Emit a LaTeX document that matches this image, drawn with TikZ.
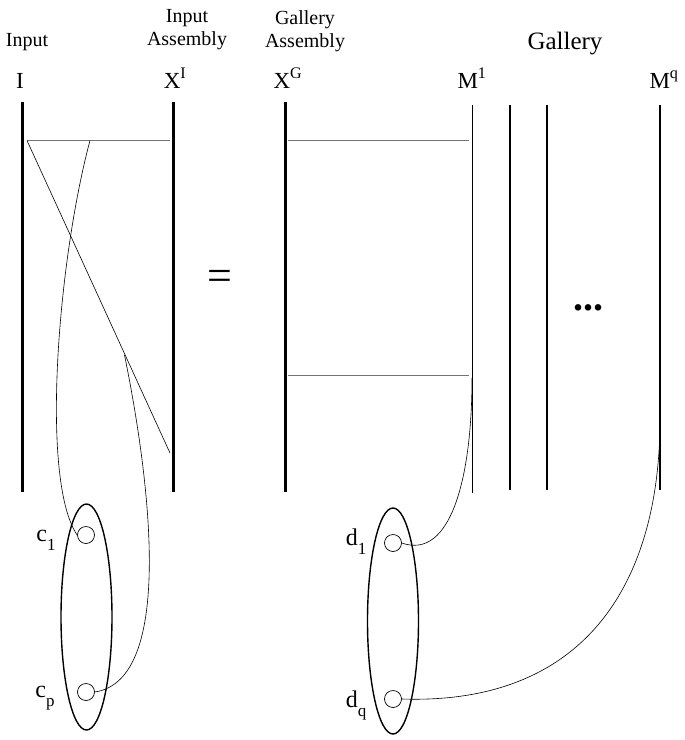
\documentclass[tikz,border=0pt]{standalone}
\usepackage{fontspec}
\setmainfont{Liberation Serif}
\usetikzlibrary{positioning,shapes.geometric}
\tikzset{font=\fontsize{20}{23}\selectfont}
\newcommand{\lowidx}[1]{\raisebox{-9pt}{\fontsize{17}{17}\selectfont #1}}
\tikzset{
	bar/.style={line width=3pt},
	mline/.style={line width=1.3pt},
	rung/.style={line width=0.8pt, black!55},
	link/.style={line width=0.6pt},
	port/.style={draw, circle, minimum size=17pt, inner sep=0pt, line width=0.7pt},
	group/.style={draw, ellipse, minimum width=51pt, minimum height=226pt, inner sep=0pt, line width=1.4pt},
	sym/.style={font=\fontsize{23}{25}\selectfont, anchor=base},
	idx/.style={font=\fontsize{24}{26}\selectfont, anchor=base},
}

\begin{document}
\begin{tikzpicture}[x=1pt, y=-1pt]
	\useasboundingbox (0,0) rectangle (685,740);
	\begin{scope}
		\tikzstyle{every node}=[align=center, inner sep=1pt]
		% headings
		\node (hin) at (27,42) {Input};
		\node (hinas) at (187,30) {Input\\Assembly};
		\node (hgalas) at (305,31) {Gallery\\Assembly};
		\node[font=\fontsize{25}{28}\selectfont] (hgal) at (565,44) {Gallery};

		% symbols above the bars
		\node[sym] (sI) at (20,88) {I};
		\node[sym] (sXI) at (175,88) {X\textsuperscript{I}};
		\node[sym] (sXG) at (288,88) {X\textsuperscript{G}};
		\node[sym] (sM1) at (472,88) {M\textsuperscript{1}};
		\node[sym] (sMq) at (664,88) {M\textsuperscript{q}};

		\node[font=\fontsize{44}{44}\selectfont] (eq) at (220,280) {=};
		\node[font=\fontsize{40}{40}\selectfont\bfseries, anchor=base] (dots) at (588,310) {...};

		% bars
		\coordinate (I-t) at (22,102);
		\coordinate (I-b) at (22,492);
		\coordinate (XI-t) at (173,102);
		\coordinate (XI-b) at (173,492);
		\coordinate (XG-t) at (285,102);
		\coordinate (XG-b) at (285,492);
		\coordinate (M1-t) at (472.5,105);
		\coordinate (M1-b) at (472.5,493);
		\coordinate (M2-t) at (510,105);
		\coordinate (M2-b) at (510,490);
		\coordinate (M3-t) at (547,105);
		\coordinate (M3-b) at (547,490);
		\coordinate (Mq-t) at (660,105);
		\coordinate (Mq-b) at (660,490);

		\draw[bar] (I-t) -- (I-b);
		\draw[bar] (XI-t) -- (XI-b);
		\draw[bar] (XG-t) -- (XG-b);
		\draw[mline] (M1-t) -- (M1-b);
		\draw[mline] (M2-t) -- (M2-b);
		\draw[mline] (M3-t) -- (M3-b);
		\draw[mline] (Mq-t) -- (Mq-b);

		% input wiring
		\coordinate (ra) at (27,140.5);
		\coordinate (rb) at (90,140.5);
		\coordinate (rc) at (170,140.5);
		\coordinate (dg) at (170,453);
		\coordinate (dm) at (124.5,355);
		\draw[rung] (ra) -- (rc);
		\draw[link] (ra) -- (dg);

		% gallery wiring
		\coordinate (ga) at (288,140.5);
		\coordinate (gb) at (469,140.5);
		\coordinate (gc) at (288,375);
		\coordinate (gd) at (469,375);
		\coordinate (m1) at (472,378);
		\coordinate (mq) at (660,425);
		\draw[rung] (ga) -- (gb);
		\draw[rung] (gc) -- (gd);

		% clusters
		\node[group] (cin) at (86.5,617) {};
		\node[port] (c1) at (86,535) {};
		\node[port] (cp) at (86,692) {};
		\node[idx] (lc1) at (46,541) {c\lowidx{1}};
		\node[idx] (lcp) at (45,697) {c\lowidx{p}};

		\node[group] (dgal) at (393,621) {};
		\node[port] (d1) at (393,543) {};
		\node[port] (dq) at (393,699) {};
		\node[idx] (ld1) at (356,545) {d\lowidx{1}};
		\node[idx] (ldq) at (356,707) {d\lowidx{q}};

		\draw[link] (rb) .. controls (58,260) and (40,480) .. (c1.west);
		\draw[link] (dm) .. controls (150,480) and (175,680) .. (cp.east);
		\draw[link] (m1) .. controls (472,480) and (450,560) .. (d1.east);
		\draw[link] (mq) .. controls (658,590) and (580,705) .. (dq.east);
	\end{scope}
\end{tikzpicture}
\end{document}
